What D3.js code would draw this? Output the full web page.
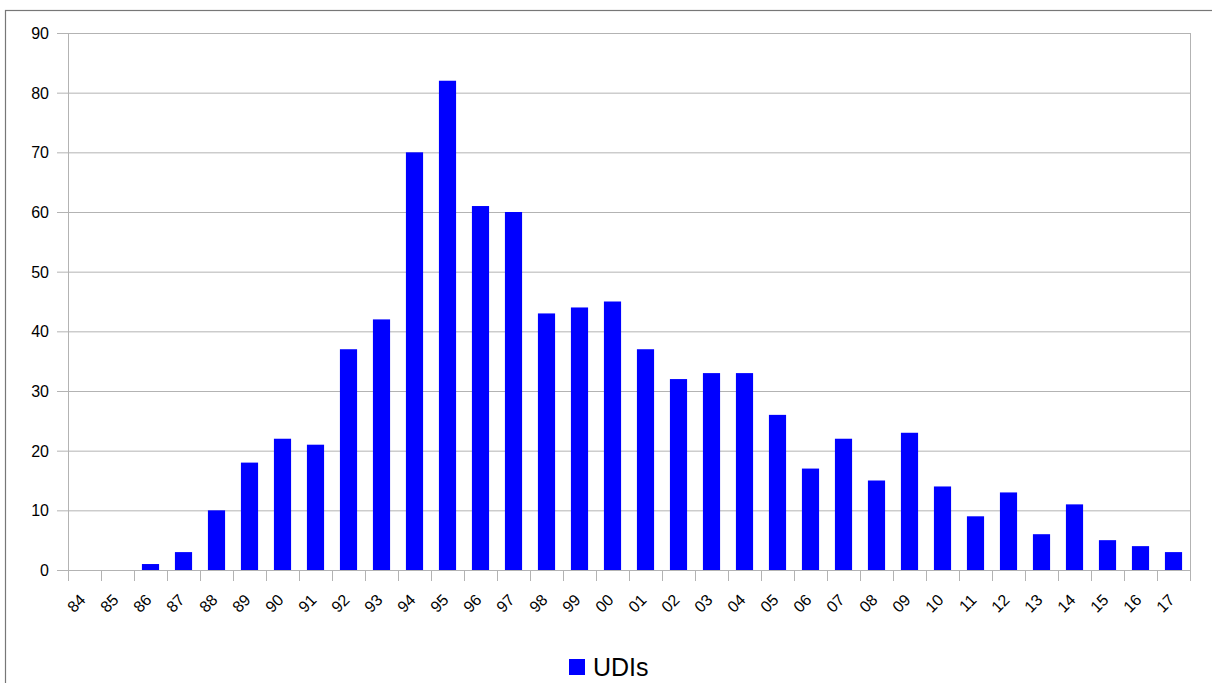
<!DOCTYPE html>
<html>
<head>
<meta charset="utf-8">
<script src="https://cdn.jsdelivr.net/npm/d3@7"></script>
<style>
  body { margin: 0; background: #fff; }
  text { font-family: "Liberation Sans", Arial, sans-serif; fill: #000; }
</style>
</head>
<body>
<svg id="chart" width="1212" height="683"></svg>
<script>
var years = ["84","85","86","87","88","89","90","91","92","93","94","95","96","97","98","99",
  "00","01","02","03","04","05","06","07","08","09","10","11","12","13","14","15","16","17"];
var udis = [0,0,1,3,10,18,22,21,37,42,70,82,61,60,43,44,45,37,32,33,33,26,17,22,15,23,14,9,13,6,11,5,4,3];
var yTicks = [0,10,20,30,40,50,60,70,80,90];

var svg = d3.select("#chart");
var pLeft = 68, pRight = 1190, pTop = 33, pBottom = 570;

// outer frame
svg.append("rect")
  .attr("x", 5.5).attr("y", 10.5)
  .attr("width", 1240).attr("height", 700)
  .attr("fill", "none").attr("stroke", "#777").attr("stroke-width", 1.2);

var x = d3.scaleBand().domain(years).range([pLeft, pRight]).paddingInner(0.48).paddingOuter(0.24);
var y = d3.scaleLinear().domain([0, 90]).range([pBottom, pTop]);

// gridlines
svg.append("g").selectAll("line")
  .data(yTicks).enter()
  .append("line")
  .attr("x1", pLeft - 11).attr("x2", pRight)
  .attr("y1", function(d) { return y(d) + 0.5; })
  .attr("y2", function(d) { return y(d) + 0.5; })
  .attr("stroke", "#b3b3b3").attr("stroke-width", 1);

// y labels
svg.append("g").selectAll("text")
  .data(yTicks).enter()
  .append("text")
  .attr("x", 49).attr("y", function(d) { return y(d) + 6; })
  .attr("text-anchor", "end")
  .attr("font-size", "16px")
  .text(function(d) { return d; });

// axis lines
svg.append("line").attr("x1", pLeft + 0.5).attr("x2", pLeft + 0.5)
  .attr("y1", pTop).attr("y2", pBottom + 11).attr("stroke", "#b3b3b3");
svg.append("line").attr("x1", pRight + 0.5).attr("x2", pRight + 0.5)
  .attr("y1", pTop).attr("y2", pBottom + 11).attr("stroke", "#b3b3b3");

// x ticks at category boundaries
var step = x.step();
svg.append("g").selectAll("line")
  .data(years.slice(1)).enter()
  .append("line")
  .attr("x1", function(d, i) { return Math.round(pLeft + step * (i + 1)) + 0.5; })
  .attr("x2", function(d, i) { return Math.round(pLeft + step * (i + 1)) + 0.5; })
  .attr("y1", pBottom).attr("y2", pBottom + 11)
  .attr("stroke", "#b3b3b3");

// bars
svg.append("g").selectAll("rect")
  .data(udis).enter()
  .append("rect")
  .attr("x", function(d, i) { return x(years[i]); })
  .attr("width", x.bandwidth())
  .attr("y", function(d) { return y(d); })
  .attr("height", function(d) { return pBottom - y(d); })
  .attr("fill", "#0000ff");

// x labels
svg.append("g").selectAll("text")
  .data(years).enter()
  .append("text")
  .attr("transform", function(d) {
    return "translate(" + (x(d) + x.bandwidth() / 2 + 2) + "," + 601 + ") rotate(-45)";
  })
  .attr("text-anchor", "end")
  .attr("font-size", "16px")
  .text(function(d) { return d; });

// legend
svg.append("rect").attr("x", 569).attr("y", 659).attr("width", 16).attr("height", 16).attr("fill", "#0000ff");
svg.append("text").attr("x", 593).attr("y", 676).attr("font-size", "25px").text("UDIs");
</script>
</body>
</html>
